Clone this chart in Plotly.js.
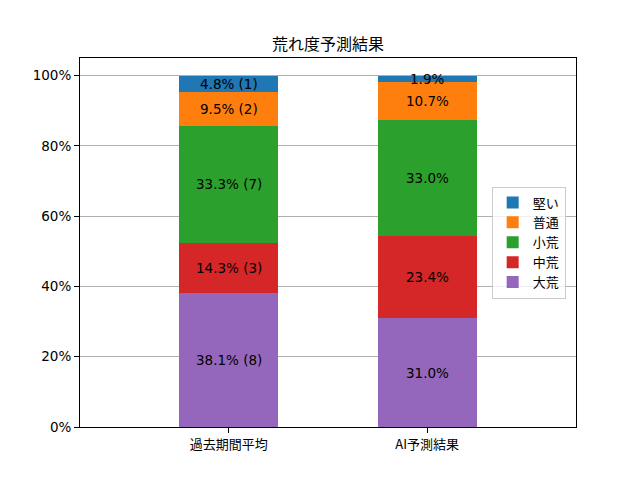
<!DOCTYPE html>
<html>
<head>
<meta charset="utf-8">
<script src="https://cdn.plot.ly/plotly-3.0.1.min.js"></script>
<style>
  html, body { margin: 0; padding: 0; background: #fff; }
  #chart { width: 640px; height: 480px; }
</style>
</head>
<body>
<div id="chart"></div>
<script>
  // stacked from bottom up
  const categories = ['過去期間平均', 'AI予測結果'];
  const levels = ['大荒', '中荒', '小荒', '普通', '堅い'];
  const colors = ['#9467bd', '#d62728', '#2ca02c', '#ff7f0e', '#1f77b4'];
  const pastPct = [38.1, 14.3, 33.3, 9.5, 4.8];
  const pastCount = [8, 3, 7, 2, 1];
  const aiPct = [31.0, 23.4, 33.0, 10.7, 1.9];
  const yTicks = [0, 0.2, 0.4, 0.6, 0.8, 1.0];

  const FONT = 'DejaVu Sans, Noto Sans CJK JP, sans-serif';

  const traces = levels.map((name, i) => ({
    type: 'bar',
    name: name,
    x: categories,
    y: [pastPct[i] / 100, aiPct[i] / 100],
    width: 0.5,
    marker: { color: colors[i], line: { width: 0 } },
    hoverinfo: 'skip'
  }));

  const annotations = [];
  let cumPast = 0;
  let cumAi = 0;
  levels.forEach((name, i) => {
    annotations.push({
      x: categories[0],
      y: (cumPast + pastPct[i] / 2) / 100,
      text: pastPct[i].toFixed(1) + '% (' + pastCount[i] + ')',
      showarrow: false,
      font: { size: 13.5, color: '#000', family: FONT }
    });
    annotations.push({
      x: categories[1],
      y: (cumAi + aiPct[i] / 2) / 100,
      text: aiPct[i].toFixed(1) + '%',
      showarrow: false,
      font: { size: 13.5, color: '#000', family: FONT }
    });
    cumPast += pastPct[i];
    cumAi += aiPct[i];
  });

  const layout = {
    width: 640,
    height: 480,
    barmode: 'stack',
    paper_bgcolor: '#fff',
    plot_bgcolor: '#fff',
    font: { family: FONT, size: 13.5, color: '#000' },
    title: {
      text: '荒れ度予測結果',
      font: { size: 16, family: 'Noto Sans CJK JP, sans-serif', color: '#000' },
      x: 0.5,
      xref: 'paper',
      y: 0.908,
      yanchor: 'middle'
    },
    margin: { l: 80, r: 64, t: 58, b: 53 },
    xaxis: {
      type: 'category',
      range: [-0.75, 1.75],
      showline: true,
      linecolor: '#000',
      linewidth: 1,
      mirror: true,
      ticks: 'outside',
      ticklen: 5,
      tickcolor: '#000',
      showgrid: false,
      tickfont: { family: 'Noto Sans CJK JP, sans-serif', size: 13 }
    },
    yaxis: {
      range: [0, 1.05],
      tickvals: yTicks,
      tickformat: '.0%',
      showline: true,
      linecolor: '#000',
      linewidth: 1,
      mirror: true,
      ticks: 'outside',
      ticklen: 5,
      tickcolor: '#000',
      showgrid: true,
      gridcolor: '#b0b0b0',
      gridwidth: 1,
      zeroline: false
    },
    legend: {
      x: 0.83,
      xanchor: 'left',
      y: 0.5,
      yanchor: 'middle',
      traceorder: 'reversed',
      bgcolor: 'rgba(255,255,255,0.8)',
      bordercolor: '#cccccc',
      borderwidth: 1,
      font: { family: 'Noto Sans CJK JP, sans-serif', size: 13 }
    },
    annotations: annotations
  };

  Plotly.newPlot('chart', traces, layout, { displayModeBar: false, staticPlot: true });
</script>
</body>
</html>
